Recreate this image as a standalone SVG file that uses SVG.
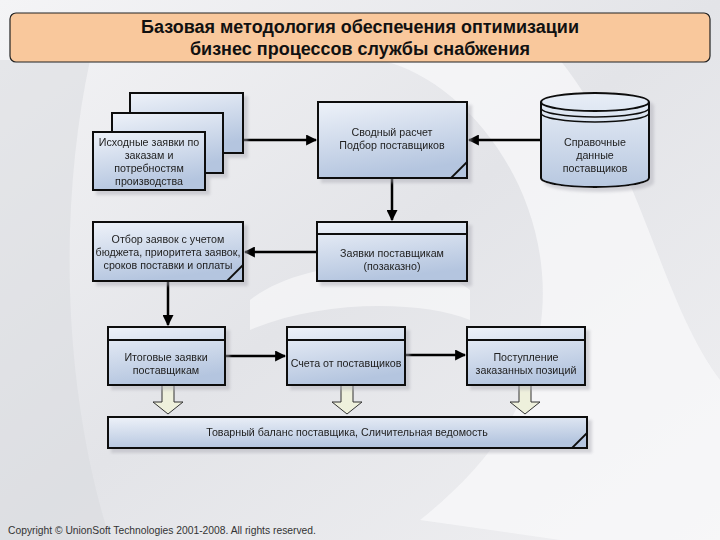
<svg xmlns="http://www.w3.org/2000/svg" width="720" height="540" viewBox="0 0 720 540">
<defs>
<linearGradient id="bg" x1="0" y1="0" x2="1" y2="1">
<stop offset="0" stop-color="#f4f4f6"/><stop offset="0.5" stop-color="#e3e4e8"/><stop offset="1" stop-color="#f0f0f2"/>
</linearGradient>
<linearGradient id="nf" x1="0" y1="0" x2="0.3" y2="1">
<stop offset="0" stop-color="#eef2f9"/><stop offset="1" stop-color="#b4c5df"/>
</linearGradient>
<linearGradient id="cyl" x1="0" y1="0" x2="0" y2="1">
<stop offset="0" stop-color="#e8eef7"/><stop offset="1" stop-color="#b8c8e0"/>
</linearGradient>
<marker id="ah" viewBox="0 0 10 10" refX="9" refY="5" markerWidth="4.4" markerHeight="4.4" orient="auto">
<path d="M0,0 L10,5 L0,10 Z" fill="#000"/>
</marker>
<filter id="sh" x="-10%" y="-10%" width="130%" height="130%">
<feOffset dx="4" dy="4" in="SourceAlpha" result="o"/>
<feGaussianBlur in="o" stdDeviation="1.5" result="b"/>
<feColorMatrix in="b" type="matrix" values="0 0 0 0 0.4  0 0 0 0 0.4  0 0 0 0 0.45  0 0 0 0.45 0" result="c"/>
<feMerge><feMergeNode in="c"/><feMergeNode in="SourceGraphic"/></feMerge>
</filter>
</defs>
<style>
.n{fill:url(#nf);stroke:#111;stroke-width:2;}
.f{fill:none;stroke:#111;stroke-width:1.8;}
.t{font-family:"Liberation Sans",Arial,sans-serif;font-size:10.7px;fill:#222;text-anchor:middle;}
.c{fill:none;stroke:#000;stroke-width:2.5;marker-end:url(#ah);}
.h{fill:#eef0dc;stroke:#333;stroke-width:1;}
.tt{font-family:"Liberation Sans",Arial,sans-serif;font-size:18px;font-weight:bold;fill:#111;text-anchor:middle;}
</style>
<rect width="720" height="540" fill="url(#bg)"/>
<path d="M380,60 C470,80 560,200 540,330 C530,420 470,480 420,520 L560,540 L720,540 L720,380 C660,300 640,160 560,60 Z" fill="#fafafb" opacity="0.7"/>
<path d="M0,60 L90,60 C60,200 60,380 110,540 L0,540 Z" fill="#d8d9de" opacity="0.5"/>
<path d="M250,300 C300,260 420,250 470,290 L470,320 C420,300 320,300 250,330 Z" fill="#ffffff" opacity="0.5"/>

<g id="title">
<rect x="10" y="13" width="700" height="49" rx="6" fill="#f9c89c" stroke="#222" stroke-width="1.2"/>
<text class="tt" x="360" y="33">Базовая методология обеспечения оптимизации</text>
<text class="tt" x="360" y="55">бизнес процессов службы снабжения</text>
</g>

<g id="connectors">
<line x1="243" y1="140" x2="316" y2="140" class="c"/>
<line x1="541" y1="140" x2="469" y2="140" class="c"/>
<line x1="392" y1="178" x2="392" y2="220" class="c"/>
<line x1="317" y1="252" x2="245" y2="252" class="c"/>
<line x1="168" y1="281" x2="168" y2="325" class="c"/>
<line x1="225" y1="356" x2="285" y2="356" class="c"/>
<line x1="405" y1="355" x2="465" y2="355" class="c"/>
<path class="h" d="M162,385 H174 V402 H183 L168,414 L153,402 H162 Z"/>
<path class="h" d="M341,385 H353 V402 H362 L347,414 L332,402 H341 Z"/>
<path class="h" d="M519,385 H531 V402 H540 L525,414 L510,402 H519 Z"/>
</g>

<g id="node-sources" filter="url(#sh)">
<rect class="n" x="130" y="93" width="113" height="60"/>
<rect class="n" x="112" y="113" width="111" height="60"/>
<rect class="n" x="93" y="132" width="112" height="58"/>
<text class="t" x="149" y="146">Исходные заявки по</text>
<text class="t" x="149" y="159">заказам и</text>
<text class="t" x="149" y="172">потребностям</text>
<text class="t" x="149" y="185">производства</text>
</g>

<g id="node-svod" filter="url(#sh)">
<rect class="n" x="318" y="102" width="149" height="76"/>
<path class="f" d="M467,162 L451,178"/>
<text class="t" x="392" y="136">Сводный расчет</text>
<text class="t" x="392" y="149">Подбор поставщиков</text>
</g>

<g id="node-spravochnye" filter="url(#sh)">
<path d="M541,102 V178 A54,9 0 0 0 649,178 V102 A54,9 0 0 0 541,102 Z" fill="url(#cyl)" stroke="#111" stroke-width="2"/>
<path d="M541,102 A54,9 0 0 0 649,102" fill="none" stroke="#111" stroke-width="2"/>
<path d="M541,108 A54,9 0 0 0 649,108" fill="none" stroke="#111" stroke-width="1.5"/>
<path d="M541,113 A54,9 0 0 0 649,113" fill="none" stroke="#111" stroke-width="1.5"/>
<text class="t" x="595" y="146">Справочные</text>
<text class="t" x="595" y="159">данные</text>
<text class="t" x="595" y="172">поставщиков</text>
</g>

<g id="node-otbor" filter="url(#sh)">
<rect class="n" x="93" y="222" width="150" height="59"/>
<path class="f" d="M243,265 L227,281"/>
<text class="t" x="168" y="243">Отбор заявок с учетом</text>
<text class="t" x="168" y="256">бюджета, приоритета заявок,</text>
<text class="t" x="168" y="269">сроков поставки и оплаты</text>
</g>

<g id="node-zayavki" filter="url(#sh)">
<rect class="n" x="317" y="222" width="150" height="59"/>
<line x1="317" y1="234" x2="467" y2="234" stroke="#111" stroke-width="2"/>
<text class="t" x="392" y="257">Заявки поставщикам</text>
<text class="t" x="392" y="270">(позаказно)</text>
</g>

<g id="node-itogovye" filter="url(#sh)">
<rect class="n" x="108" y="327" width="117" height="58"/>
<line x1="108" y1="340" x2="225" y2="340" stroke="#111" stroke-width="2"/>
<text class="t" x="166" y="361">Итоговые заявки</text>
<text class="t" x="166" y="374">поставщикам</text>
</g>

<g id="node-scheta" filter="url(#sh)">
<rect class="n" x="287" y="327" width="118" height="58"/>
<line x1="287" y1="340" x2="405" y2="340" stroke="#111" stroke-width="2"/>
<text class="t" x="346" y="367">Счета от поставщиков</text>
</g>

<g id="node-postuplenie" filter="url(#sh)">
<rect class="n" x="467" y="327" width="118" height="58"/>
<line x1="467" y1="340" x2="585" y2="340" stroke="#111" stroke-width="2"/>
<text class="t" x="526" y="361">Поступление</text>
<text class="t" x="526" y="374">заказанных позиций</text>
</g>

<g id="node-balans" filter="url(#sh)">
<rect class="n" x="108" y="417" width="479" height="31"/>
<path class="f" d="M587,433 L572,448"/>
<text class="t" x="347" y="436">Товарный баланс поставщика, Сличительная ведомость</text>
</g>

<text x="8" y="534" font-family="'Liberation Sans',Arial,sans-serif" font-size="10.3" fill="#333">Copyright © UnionSoft Technologies 2001-2008. All rights reserved.</text>
</svg>
